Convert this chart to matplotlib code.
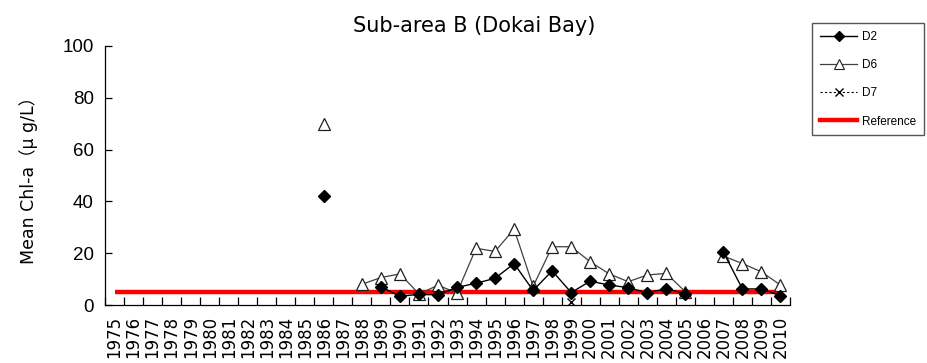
import numpy as np
import matplotlib
matplotlib.use("Agg")
import matplotlib.pyplot as plt
from matplotlib.lines import Line2D

plt.rcParams['font.family'] = ['Liberation Sans', 'Noto Sans CJK JP', 'DejaVu Sans']

years = list(range(1975, 2011))
nan = np.nan

# Annual mean chlorophyll-a by station (µg/L); nan = no survey
d2 = [nan] * 11 + [42.0, nan, nan, 7.0, 3.4, 4.1, 3.9, 6.8, 8.4, 10.3, 16.0, 5.6,
                   13.2, 4.8, 9.2, 7.7, 6.7, 4.7, 6.3, 4.3, nan, 20.4, 6.2, 6.2, 3.6]
d6 = [nan] * 11 + [70.0, nan, 8.0, 10.6, 12.0, 4.3, 7.6, 4.7, 21.9, 20.7, 29.3, 7.2,
                   22.5, 22.5, 16.7, 12.0, 9.0, 11.6, 12.2, 5.1, nan, 18.9, 16.0, 12.8, 7.7]
d7 = [nan] * 24 + [1.0] + [nan] * 11
reference = [5.0] * len(years)

fig = plt.figure(figsize=(9.27, 3.63), dpi=100)
ax = fig.add_axes([105 / 927, 1 - 305 / 363, 685 / 927, 259 / 363])

x = np.arange(len(years))
ax.plot(x, reference, color='#ff0000', lw=3.2, solid_capstyle='butt', zorder=2, label='Reference')
ax.plot(x, d6, color='#404040', lw=0.9, marker='^', markersize=8.5,
        markerfacecolor='white', markeredgecolor='#202020', markeredgewidth=0.9, zorder=3, label='D6')
ax.plot(x, d2, color='black', lw=1.0, marker='D', markersize=6,
        markerfacecolor='black', markeredgecolor='black', zorder=4, label='D2')
ax.plot(x, d7, color='black', lw=0.8, ls=(0, (2, 2)), marker='x', markersize=6,
        markeredgewidth=1.0, zorder=5, label='D7')

ax.set_xlim(-0.5, len(years) - 0.5)
ax.set_ylim(0, 100)
ax.set_yticks(np.arange(0, 101, 20))
ax.set_xticks(x)
ax.set_xticklabels([str(y) for y in years], rotation=90, fontsize=12, family='DejaVu Sans')
ax.set_xticks(np.arange(-0.5, len(years), 1.0), minor=True)
ax.tick_params(axis='x', which='major', length=0, pad=8)
ax.tick_params(axis='x', which='minor', direction='in', length=6, width=0.9, color='black')
ax.tick_params(axis='y', direction='in', length=5, width=0.9, labelsize=13.5, pad=8)

for s in ['top', 'right']:
    ax.spines[s].set_visible(False)
for s in ['left', 'bottom']:
    ax.spines[s].set_linewidth(0.9)
    ax.spines[s].set_color('black')

ax.set_ylabel('Mean Chl-a（μ g/L）', fontsize=12.5, labelpad=18,
              family=['DejaVu Sans', 'Noto Sans CJK JP'])
fig.text(474 / 927, 1 - 26 / 363, 'Sub-area B (Dokai Bay)', ha='center', va='center',
         fontsize=15, family='DejaVu Sans')

handles = [
    Line2D([], [], color='black', lw=1.0, marker='D', markersize=5, markerfacecolor='black'),
    Line2D([], [], color='#404040', lw=0.9, marker='^', markersize=6.5,
           markerfacecolor='white', markeredgecolor='#202020', markeredgewidth=0.8),
    Line2D([], [], color='black', lw=0.8, ls=(0, (2, 2)), marker='x', markersize=5.5),
    Line2D([], [], color='#ff0000', lw=3.2),
]
leg = fig.legend(handles, ['D2', 'D6', 'D7', 'Reference'], loc='upper left',
                 bbox_to_anchor=(812 / 927, 1 - 23 / 363), bbox_transform=fig.transFigure,
                 fontsize=8.5, frameon=True, fancybox=False, framealpha=1,
                 edgecolor='#555555', handlelength=3.2, handletextpad=0.4,
                 labelspacing=1.38, borderpad=0.65, borderaxespad=0)
leg.get_frame().set_linewidth(1.0)

fig.savefig('out.png', dpi=100)
